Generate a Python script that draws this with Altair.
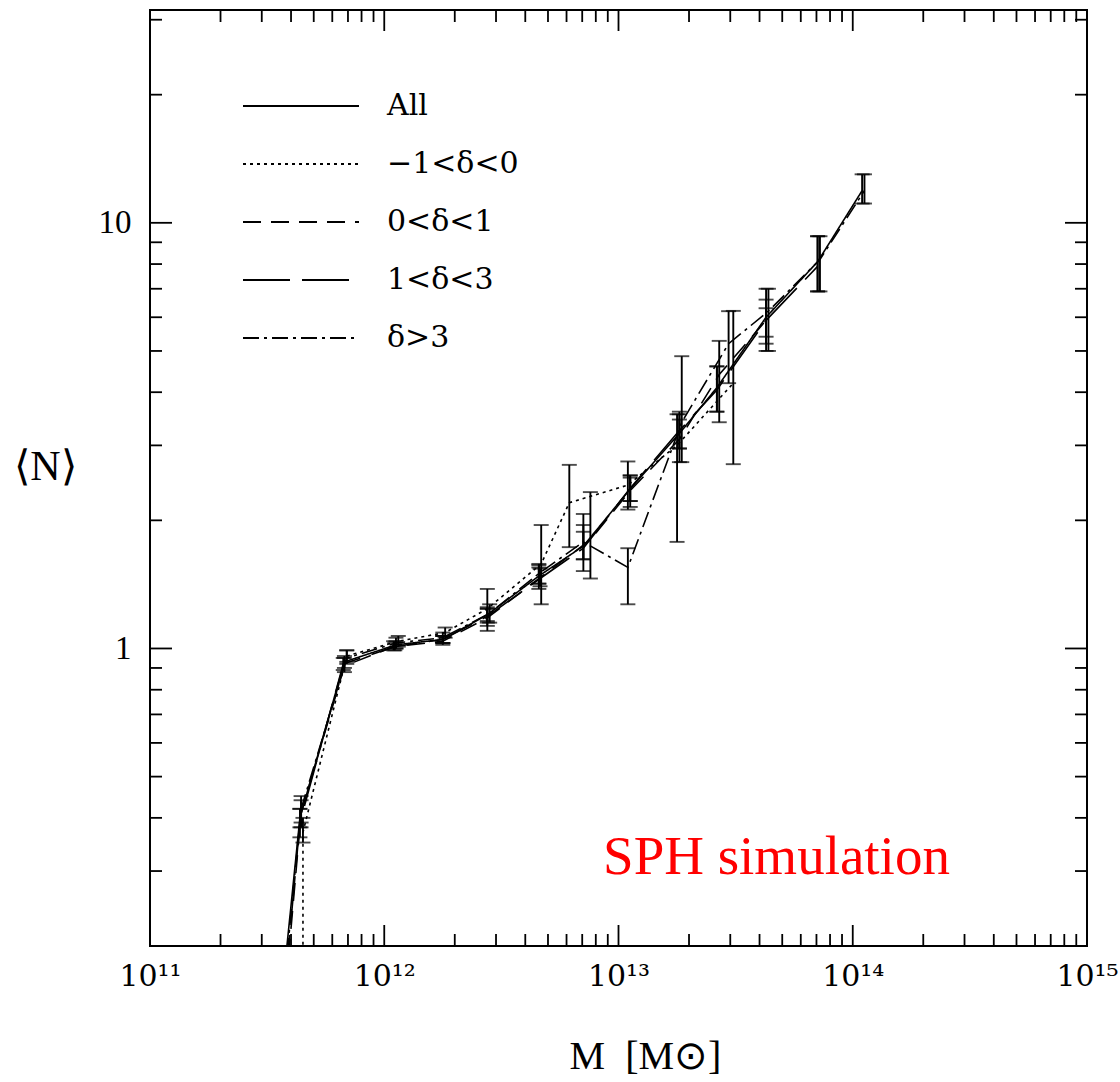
import json
import altair as alt
import pandas as pd

# ---------------- data ----------------
series_names = ["All", "−1<δ<0", "0<δ<1", "1<δ<3", "δ>3"]

# All (solid)
all_logm = [11.55, 11.64, 11.83, 12.05, 12.25, 12.44, 12.66, 12.85, 13.05, 13.26, 13.42, 13.63, 13.85, 14.04]
all_n    = [0.13, 0.40, 0.93, 1.02, 1.05, 1.20, 1.48, 1.74, 2.37, 3.20, 4.10, 6.00, 8.10, 11.9]
all_lo   = [None, 0.38, 0.90, 1.00, 1.03, 1.16, 1.42, 1.62, 2.22, 2.95, 3.60, 5.40, 6.90, 11.1]
all_hi   = [None, 0.42, 0.96, 1.04, 1.07, 1.24, 1.55, 1.88, 2.52, 3.45, 4.60, 6.30, 9.30, 13.0]

# -1 < delta < 0 (dotted)
m1_logm = [11.653, 11.653, 11.84, 12.06, 12.26, 12.44, 12.67, 12.79, 13.04, 13.25, 13.49]
m1_n    = [0.02, 0.37, 0.96, 1.04, 1.09, 1.24, 1.58, 2.20, 2.42, 3.00, 4.20]
m1_lo   = [None, 0.35, 0.93, 1.01, 1.06, 1.10, 1.27, 1.73, 2.12, 1.78, 2.71]
m1_hi   = [None, 0.40, 0.99, 1.07, 1.12, 1.38, 1.95, 2.70, 2.75, 3.55, 6.21]

# 0 < delta < 1 (dashed)
d0_logm = [11.56, 11.645, 11.83, 12.04, 12.25, 12.44, 12.66, 12.88, 13.05, 13.26, 13.43, 13.63]
d0_n    = [0.12, 0.41, 0.91, 1.01, 1.04, 1.18, 1.46, 1.80, 2.35, 3.10, 4.40, 5.90]
d0_lo   = [None, 0.38, 0.88, 0.99, 1.02, 1.13, 1.38, 1.46, 2.15, 2.74, 3.40, 5.00]
d0_hi   = [None, 0.44, 0.95, 1.04, 1.07, 1.25, 1.57, 2.33, 2.55, 3.55, 5.28, 7.00]

# 1 < delta < 3 (long dashed)
d1_logm = [11.555, 11.64, 11.825, 12.045, 12.25, 12.44, 12.665, 12.85, 13.05, 13.26, 13.42, 13.63, 13.85]
d1_n    = [0.12, 0.39, 0.92, 1.01, 1.05, 1.19, 1.46, 1.72, 2.38, 3.25, 4.05, 5.90, 7.90]
d1_lo   = [None, 0.36, 0.89, 0.99, 1.03, 1.15, 1.40, 1.52, 2.22, 2.95, 3.60, 5.20, 6.90]
d1_hi   = [None, 0.42, 0.95, 1.03, 1.07, 1.24, 1.54, 2.07, 2.55, 3.60, 4.60, 6.60, 9.30]

# delta > 3 (dash-dot)
d3_logm = [11.55, 11.645, 11.84, 12.05, 12.25, 12.45, 12.66, 12.85, 13.04, 13.27, 13.47, 13.64, 13.86, 14.05]
d3_n    = [0.12, 0.42, 0.95, 1.03, 1.06, 1.21, 1.50, 1.78, 1.55, 3.40, 5.20, 6.20, 8.20, 11.9]
d3_lo   = [None, 0.39, 0.92, 1.00, 1.03, 1.15, 1.42, 1.62, 1.27, 2.74, 4.20, 5.00, 6.90, 11.1]
d3_hi   = [None, 0.45, 0.99, 1.06, 1.09, 1.27, 1.58, 1.95, 1.72, 4.86, 6.20, 7.00, 9.30, 13.0]

# axis ticks / labels
x_major = [1e11, 1e12, 1e13, 1e14, 1e15]
x_tick_labels = ["10¹¹", "10¹²", "10¹³", "10¹⁴", "10¹⁵"]
x_minor = [k * 10.0 ** e for e in range(11, 15) for k in range(2, 10)]
y_major = [1, 10]
y_tick_labels = ["1", "10"]
y_minor = [0.3, 0.4, 0.5, 0.6, 0.7, 0.8, 0.9, 2, 3, 4, 5, 6, 7, 8, 9, 20, 30]

# ---------------- tables ----------------
series_data = [
    (series_names[0], all_logm, all_n, all_lo, all_hi),
    (series_names[1], m1_logm, m1_n, m1_lo, m1_hi),
    (series_names[2], d0_logm, d0_n, d0_lo, d0_hi),
    (series_names[3], d1_logm, d1_n, d1_lo, d1_hi),
    (series_names[4], d3_logm, d3_n, d3_lo, d3_hi),
]
line_rows, err_rows = [], []
for name, lm, nn, lo, hi in series_data:
    for i, (a, b, c, d) in enumerate(zip(lm, nn, lo, hi)):
        line_rows.append({"series": name, "idx": i, "M": 10 ** a, "N": b})
        if c is not None:
            err_rows.append({"series": name, "M": 10 ** a, "lo": c, "hi": d})
lines_df = pd.DataFrame(line_rows)
err_df = pd.DataFrame(err_rows)

# ---------------- layout / style ----------------
W, H = 937, 936
FONT_SERIF = "Liberation Serif"
FONT_LBL = "DejaVu Serif"
dash_range = [[1, 0], [3, 4], [18, 10], [47, 12], [16, 5, 3, 5]]

xscale = alt.Scale(type="log", domain=[1e11, 1e15], nice=False)
yscale = alt.Scale(type="log", domain=[0.2, 31.62], nice=False)

x_label_expr = json.dumps(x_tick_labels) + "[round(log(datum.value)/LN10) - 11]"
y_label_expr = json.dumps(y_tick_labels) + "[round(log(datum.value)/LN10)]"

x_axis = alt.Axis(
    values=x_major, labelExpr=x_label_expr, ticks=False, tickSize=0, domain=False, grid=False,
    labelFont=FONT_LBL, labelFontSize=30, labelPadding=15, labelColor="black",
    labelFlush=False, labelOverlap=False,
    title="M\u00a0\u00a0[M⊙]", titleFont=FONT_SERIF, titleFontSize=40, titleFontWeight="normal",
    titleColor="black", titleX=495, titleY=122, titleAlign="center", titleBaseline="alphabetic",
)
y_axis = alt.Axis(
    values=y_major, labelExpr=y_label_expr, ticks=False, tickSize=0, domain=False, grid=False,
    labelFont=FONT_SERIF, labelFontSize=33, labelPadding=19, labelColor="black",
    labelFlush=False, labelOverlap=False,
    title="⟨N⟩", titleFont=FONT_SERIF, titleFontSize=42, titleFontWeight="normal",
    titleColor="black", titleAngle=0, titleX=-105, titleY=456, titleAlign="center",
    titleBaseline="middle",
)

lines = alt.Chart(lines_df).mark_line(color="black", strokeWidth=1.6, clip=True).encode(
    x=alt.X("M:Q", scale=xscale, axis=x_axis),
    y=alt.Y("N:Q", scale=yscale, axis=y_axis),
    strokeDash=alt.StrokeDash(
        "series:N",
        scale=alt.Scale(domain=series_names, range=dash_range),
        legend=alt.Legend(
            title=None, orient="none", legendX=92, legendY=82, padding=0,
            symbolType="stroke", symbolSize=13456, symbolStrokeWidth=1.8,
            symbolStrokeColor="black", clipHeight=28, rowPadding=28,
            labelFont=FONT_LBL, labelFontSize=30, labelOffset=27, labelColor="black",
        ),
    ),
    order=alt.Order("idx:Q"),
)

err_rule = alt.Chart(err_df).mark_rule(color="black", strokeWidth=1.9, clip=True).encode(
    x=alt.X("M:Q", scale=xscale, axis=None),
    y=alt.Y("lo:Q", scale=yscale, axis=None),
    y2="hi:Q",
)
cap_lo = alt.Chart(err_df).mark_tick(color="black", orient="horizontal", size=15, thickness=1.9, clip=True).encode(
    x=alt.X("M:Q", scale=xscale, axis=None),
    y=alt.Y("lo:Q", scale=yscale, axis=None),
)
cap_hi = alt.Chart(err_df).mark_tick(color="black", orient="horizontal", size=15, thickness=1.9, clip=True).encode(
    x=alt.X("M:Q", scale=xscale, axis=None),
    y=alt.Y("hi:Q", scale=yscale, axis=None),
)

# inward ticks on all four sides
def xticks(vals, length):
    df = pd.DataFrame({"v": vals})
    base = alt.Chart(df).mark_rule(color="black", strokeWidth=1.8)
    bottom = base.encode(x=alt.X("v:Q", scale=xscale, axis=None), y=alt.value(H), y2=alt.value(H - length))
    top = base.encode(x=alt.X("v:Q", scale=xscale, axis=None), y=alt.value(0), y2=alt.value(length))
    return [bottom, top]

def yticks(vals, length):
    df = pd.DataFrame({"v": vals})
    base = alt.Chart(df).mark_rule(color="black", strokeWidth=1.8)
    left = base.encode(y=alt.Y("v:Q", scale=yscale, axis=None), x=alt.value(0), x2=alt.value(length))
    right = base.encode(y=alt.Y("v:Q", scale=yscale, axis=None), x=alt.value(W), x2=alt.value(W - length))
    return [left, right]

tick_layers = xticks(x_minor, 12) + xticks(x_major[1:-1], 21) + yticks(y_minor, 12) + yticks(y_major, 22)

label_df = pd.DataFrame({"M": [10 ** 12.934], "N": [0.296], "t": ["SPH simulation"]})
annot = alt.Chart(label_df).mark_text(
    align="left", baseline="alphabetic", color="#ff0000", fontSize=55, font=FONT_SERIF
).encode(
    x=alt.X("M:Q", scale=xscale, axis=None),
    y=alt.Y("N:Q", scale=yscale, axis=None),
    text="t:N",
)

chart = alt.layer(lines, err_rule, cap_lo, cap_hi, *tick_layers, annot).resolve_axis(
    x="independent", y="independent"
).properties(
    width=W, height=H,
    padding={"left": 150, "top": 10, "right": 33, "bottom": 136},
    autosize=alt.AutoSizeParams(type="none"),
    background="white",
).configure_view(stroke="black", strokeWidth=2)

chart.save("out.html", embed_options={"renderer": "svg", "actions": False})
